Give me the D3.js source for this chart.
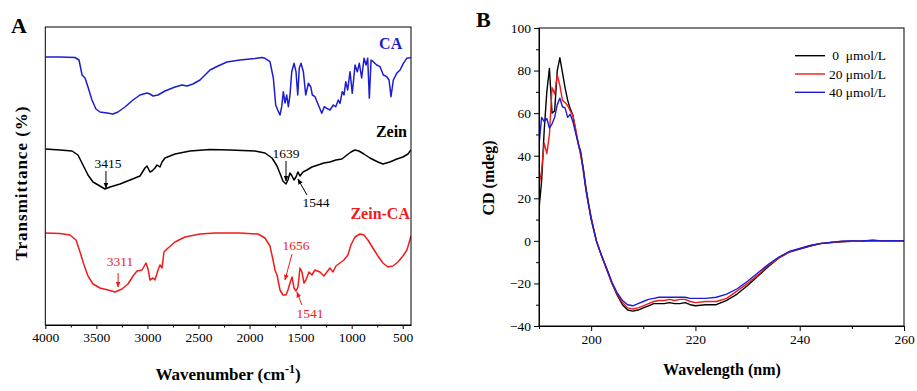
<!DOCTYPE html>
<html>
<head>
<meta charset="utf-8">
<script src="https://cdn.jsdelivr.net/npm/d3@7"></script>
<style>
  body { margin: 0; background: #fff; }
  text { font-family: "Liberation Serif", "Times New Roman", serif; fill: #000; }
</style>
</head>
<body>
<svg id="chart" width="917" height="391"></svg>
<script>
// ---------- panel A : FTIR spectra (transmittance in arbitrary offset units)
const caWn = [4000,3856,3709,3670,3640,3611,3582,3543,3504,3465,3396,3337,3288,3220,3141,3073,3004,2975,2945,2896,2828,2730,2661,2612,2554,2485,2387,2309,2221,2094,1947,1878,
  1848,1800,1767,1744,1724,1702,1685,1669,1653,1636,1620,1604,1587,1564,1545,1528,1513,1496,1473,1450,1424,1401,1385,1359,1326,1293,1268,1244,1212,1180,1156,1131,1114,1092,1075,1058,1039,1016,994,967,945,925,902,879,859,843,827,810,788,755,722,690,657,634,615,592,559,526,494,461,428,420];
const caT = [268,268,267.5,265,250,247,238,225,216,213,212,211,213,218,225,230,232,231,229,230,234,238,240,239,241,245,255,259,263,265,266.5,267.5,
  266.7,263.3,247,220,215,210,218.3,233.3,222,230,218.3,230,253.3,261.7,253.3,230,256.7,261.7,253.3,230,241.7,238.3,230,228.3,220,211.7,218.3,216.7,215,220,218.3,225,221.7,233.3,230,243.3,235,253.3,231.7,260,253.3,261.7,247,266.7,260,266.7,226.7,265,263.3,260,258.3,250,248.3,245,228.3,245,251.7,255,261.7,266.7,267.3,267.5];

const zeinWn = [4000,3856,3738,3680,3631,3582,3533,3465,3416,3366,3268,3170,3073,3024,3004,2975,2955,2926,2906,2877,2857,2828,2730,2583,2387,2191,1947,1849,1780,1731,1692,1673,1643,1624,1604,1584,1565,1545,1526,1506,1477,1438,1389,1330,1272,1213,1154,1096,1046,1007,968,929,880,821,743,694,626,557,498,449,420];
const zeinT = [176,175,174,170,160,150,143,139,136,138,141,145,149,157,159,153,154,157,160,158,163,167,171,174,175.5,175,174,172,167,159,149,144,141,145,152,149,145,148,153,149,153,155,158,160,162,163,165,166,170,173,175,174,171,167,163,161,163,166,168,171,175];

const zcWn = [4000,3856,3758,3699,3660,3621,3582,3533,3465,3386,3317,3249,3190,3141,3102,3053,3014,2994,2975,2945,2926,2896,2877,2857,2838,2798,2730,2632,2485,2338,2094,1917,1849,1800,1770,1751,1731,1702,1673,1643,1624,1604,1584,1565,1545,1526,1506,1487,1467,1448,1418,1389,1360,1311,1272,1242,1213,1183,1154,1115,1076,1037,1007,968,919,880,841,792,743,694,645,596,547,498,459,430,420];
const zcT = [92,91.5,90,85,73,60,49,41,37,35,33,36,41,49,54,55,62,56,45,47,45,55,60,57,73,77,83,88,91,92,92,91,87,79,65,55,50,35,30,30,35,42,48,37,34,38,57,53,42,45,53,50,55,53,49,53,57,53,59,62,65,70,80,88,91,90,85,77,69,62,58,59,63,69,75,85,89];

const wnTicks = [4000,3500,3000,2500,2000,1500,1000,500];
const wnMinor = [3750,3250,2750,2250,1750,1250,750];

// peak labels: text anchor point + arrow start/end, all in data units
const peakNotes = [
  {label: "3415", color: "#000", wn: 3386, t: 157, a: [3406, 154, 3406, 137]},
  {label: "1639", color: "#000", wn: 1643, t: 167, a: [1643, 164, 1643, 144]},
  {label: "1544", color: "#000", wn: 1350, t: 118, a: [1438, 130, 1526, 146]},
  {label: "3311", color: "#ee1c1c", wn: 3268, t: 59, a: [3287, 52, 3287, 38]},
  {label: "1656", color: "#ee1c1c", wn: 1545, t: 75, a: [1584, 71, 1653, 45]},
  {label: "1541", color: "#ee1c1c", wn: 1408, t: 7, a: [1487, 20, 1536, 33]}
];

// ---------- panel B : CD spectra
const cdWl = [190,190.5,191,191.5,192,192.5,193,193.5,194,194.5,195,195.5,196,196.5,197,197.5,198,198.5,199,199.5,200,
  201,202,203,204,205,206,207,208,209,210,211,212,213,214,215,216,217,218,219,220,
  222,224,226,228,230,232,234,236,238,240,242,244,246,248,250,252,254,256,258,260];
const cd0 = [15,28,52,70,81,60,61,80,86,79,72,66,62,59,52,46,41,34,25,17.5,11,
  0,-7,-13.5,-20,-25.5,-30,-32.5,-33,-32.5,-31.5,-30.5,-29.5,-29.5,-29.5,-29,-29.5,-29.5,-29,-30,-30.5,
  -30,-30,-28,-25,-21,-16.5,-12,-8,-5.3,-3.9,-2.4,-1.3,-0.8,-0.4,-0.2,-0.1,0.2,0,0,0];
const cd20 = [26,33,46,41,50,72,69,78,73,66,65,63.5,61,59,53,46,40,33,24,17,10.5,
  0,-7,-13.5,-20,-25,-29,-31.5,-32,-31.5,-30.5,-29.5,-28.5,-28,-28,-27.5,-28,-27.5,-27.5,-28.5,-29,
  -28.5,-28.5,-27,-23.5,-20,-16,-11.5,-8,-5.2,-3.8,-2.3,-1.3,-0.8,-0.3,-0.1,-0.2,0.1,-0.1,0,0];
const cd40 = [45,58,56,57.5,53,55,58,64,67,63,62.5,58,59.5,56,51,46,42,33,24,17,10,
  0,-7,-13,-19.5,-24.5,-28,-30,-30.5,-29.5,-28.5,-27.5,-27,-26.5,-26.5,-26.5,-26.5,-26.5,-26.5,-27,-27,
  -27,-26.5,-25,-22.5,-19,-15,-11,-7.6,-5,-3.6,-2.2,-1.2,-0.7,-0.2,0,0,0.3,0,0.1,0];
const cdNames = ["0  \u03bcmol/L", "20 \u03bcmol/L", "40 \u03bcmol/L"];
const cdColors = ["#000000", "#ee1c1c", "#1c1cd2"];

const svg = d3.select("#chart");

// ================= panel A =================
const ax = {l: 45.3, r: 411, t: 27, b: 325};
const xA = d3.scaleLinear().domain([4000, 419]).range([ax.l, ax.r]);
const yA = d3.scaleLinear().domain([0, 298]).range([ax.b, ax.t]);

svg.append("clipPath").attr("id", "clipA")
  .append("rect").attr("x", ax.l).attr("y", ax.t).attr("width", ax.r - ax.l).attr("height", ax.b - ax.t);

const lineA = d3.line().x(d => xA(d[0])).y(d => yA(d[1]));
const specs = [
  {wn: caWn, t: caT, color: "#1c1cd2"},
  {wn: zeinWn, t: zeinT, color: "#000"},
  {wn: zcWn, t: zcT, color: "#ee1c1c"}
];
specs.forEach(s => {
  svg.append("path")
    .datum(s.wn.map((w, i) => [w, s.t[i]]))
    .attr("clip-path", "url(#clipA)")
    .attr("fill", "none")
    .attr("stroke", s.color)
    .attr("stroke-width", 1.5)
    .attr("stroke-linejoin", "round")
    .attr("d", lineA);
});

svg.append("rect")
  .attr("x", ax.l).attr("y", ax.t).attr("width", ax.r - ax.l).attr("height", ax.b - ax.t)
  .attr("fill", "none").attr("stroke", "#000").attr("stroke-width", 1);

const gxA = svg.append("g").attr("transform", "translate(0," + ax.b + ")")
  .call(d3.axisBottom(xA).tickValues(wnTicks).tickFormat(d3.format("d")).tickSize(4).tickSizeOuter(0).tickPadding(3));
svg.append("g").attr("transform", "translate(0," + ax.b + ")")
  .call(d3.axisBottom(xA).tickValues(wnMinor).tickSize(2.5).tickSizeOuter(0).tickFormat(""))
  .select(".domain").remove();
gxA.selectAll("text").attr("font-size", 13.5);

// series names
const nameA = [
  {label: "CA", color: "#1c1cd2", wn: 505, t: 276},
  {label: "Zein", color: "#000", wn: 458, t: 188},
  {label: "Zein-CA", color: "#ee1c1c", wn: 429, t: 106}
];
nameA.forEach(n => {
  svg.append("text").attr("x", xA(n.wn)).attr("y", yA(n.t))
    .attr("text-anchor", "end").attr("font-weight", "bold").attr("font-size", 16)
    .style("fill", n.color).text(n.label);
});

// arrow markers
const defs = svg.append("defs");
["#000", "#ee1c1c"].forEach((c, i) => {
  defs.append("marker").attr("id", "arr" + i)
    .attr("viewBox", "0 0 10 10").attr("refX", 9).attr("refY", 5)
    .attr("markerWidth", 6).attr("markerHeight", 6).attr("orient", "auto")
    .attr("markerUnits", "userSpaceOnUse")
    .append("path").attr("d", "M0,1 L10,5 L0,9 Z").attr("fill", c);
});
peakNotes.forEach(p => {
  svg.append("text").attr("x", xA(p.wn)).attr("y", yA(p.t))
    .attr("text-anchor", "middle").attr("font-size", 13.5)
    .style("fill", p.color).text(p.label);
  svg.append("line")
    .attr("x1", xA(p.a[0])).attr("y1", yA(p.a[1]))
    .attr("x2", xA(p.a[2])).attr("y2", yA(p.a[3]))
    .attr("stroke", p.color).attr("stroke-width", 1)
    .attr("marker-end", "url(#arr" + (p.color === "#000" ? 0 : 1) + ")");
});

svg.append("text").attr("x", 228).attr("y", 380).attr("text-anchor", "middle")
  .attr("font-weight", "bold").attr("font-size", 17)
  .call(t => {
    t.append("tspan").text("Wavenumber (cm");
    t.append("tspan").attr("dy", -7).attr("font-size", 12).text("-1");
    t.append("tspan").attr("dy", 7).text(")");
  });

svg.append("text").attr("transform", "translate(27,183) rotate(-90)")
  .attr("text-anchor", "middle").attr("font-weight", "bold").attr("font-size", 17)
  .attr("letter-spacing", 1).text("Transmittance (%)");

svg.append("text").attr("x", 11).attr("y", 33).attr("font-weight", "bold").attr("font-size", 22).text("A");

// ================= panel B =================
const bx = {l: 539, r: 904, t: 28, b: 326};
const xB = d3.scaleLinear().domain([190, 260]).range([bx.l, bx.r]);
const yB = d3.scaleLinear().domain([-40, 100]).range([bx.b, bx.t]);

svg.append("clipPath").attr("id", "clipB")
  .append("rect").attr("x", bx.l).attr("y", bx.t).attr("width", bx.r - bx.l).attr("height", bx.b - bx.t);

const lineB = d3.line().x(d => xB(d[0])).y(d => yB(d[1]));
[cd0, cd20, cd40].forEach((vals, k) => {
  svg.append("path")
    .datum(cdWl.map((w, i) => [w, vals[i]]))
    .attr("clip-path", "url(#clipB)")
    .attr("fill", "none")
    .attr("stroke", cdColors[k])
    .attr("stroke-width", 1.4)
    .attr("stroke-linejoin", "round")
    .attr("d", lineB);
});

svg.append("rect")
  .attr("x", bx.l).attr("y", bx.t).attr("width", bx.r - bx.l).attr("height", bx.b - bx.t)
  .attr("fill", "none").attr("stroke", "#000").attr("stroke-width", 1);

const gxB = svg.append("g").attr("transform", "translate(0," + bx.b + ")")
  .call(d3.axisBottom(xB).tickValues([200, 220, 240, 260]).tickSize(5).tickSizeOuter(0).tickPadding(3));
svg.append("g").attr("transform", "translate(0," + bx.b + ")")
  .call(d3.axisBottom(xB).tickValues([190, 210, 230, 250]).tickSize(3).tickSizeOuter(0).tickFormat(""))
  .select(".domain").remove();
const gyB = svg.append("g").attr("transform", "translate(" + bx.l + ",0)")
  .call(d3.axisLeft(yB).tickValues([-40, -20, 0, 20, 40, 60, 80, 100]).tickSize(5).tickSizeOuter(0).tickPadding(3));
svg.append("g").attr("transform", "translate(" + bx.l + ",0)")
  .call(d3.axisLeft(yB).tickValues([-30, -10, 10, 30, 50, 70, 90]).tickSize(3).tickSizeOuter(0).tickFormat(""))
  .select(".domain").remove();
[gxB, gyB].forEach(g => g.selectAll("text").attr("font-size", 13.5));

// legend
cdNames.forEach((n, k) => {
  const y = 55.7 + k * 18.3;
  svg.append("line").attr("x1", 795).attr("x2", 825).attr("y1", y).attr("y2", y)
    .attr("stroke", cdColors[k]).attr("stroke-width", 1.4);
  svg.append("text").attr("x", 886).attr("y", y + 4.5).attr("text-anchor", "end")
    .attr("font-size", 13.5).style("white-space", "pre").text(n);
});

svg.append("text").attr("x", 722).attr("y", 375).attr("text-anchor", "middle")
  .attr("font-weight", "bold").attr("font-size", 16).text("Wavelength (nm)");
svg.append("text").attr("transform", "translate(494,178) rotate(-90)")
  .attr("text-anchor", "middle").attr("font-weight", "bold").attr("font-size", 16).text("CD (mdeg)");

svg.append("text").attr("x", 476).attr("y", 27).attr("font-weight", "bold").attr("font-size", 22).text("B");
</script>
</body>
</html>
